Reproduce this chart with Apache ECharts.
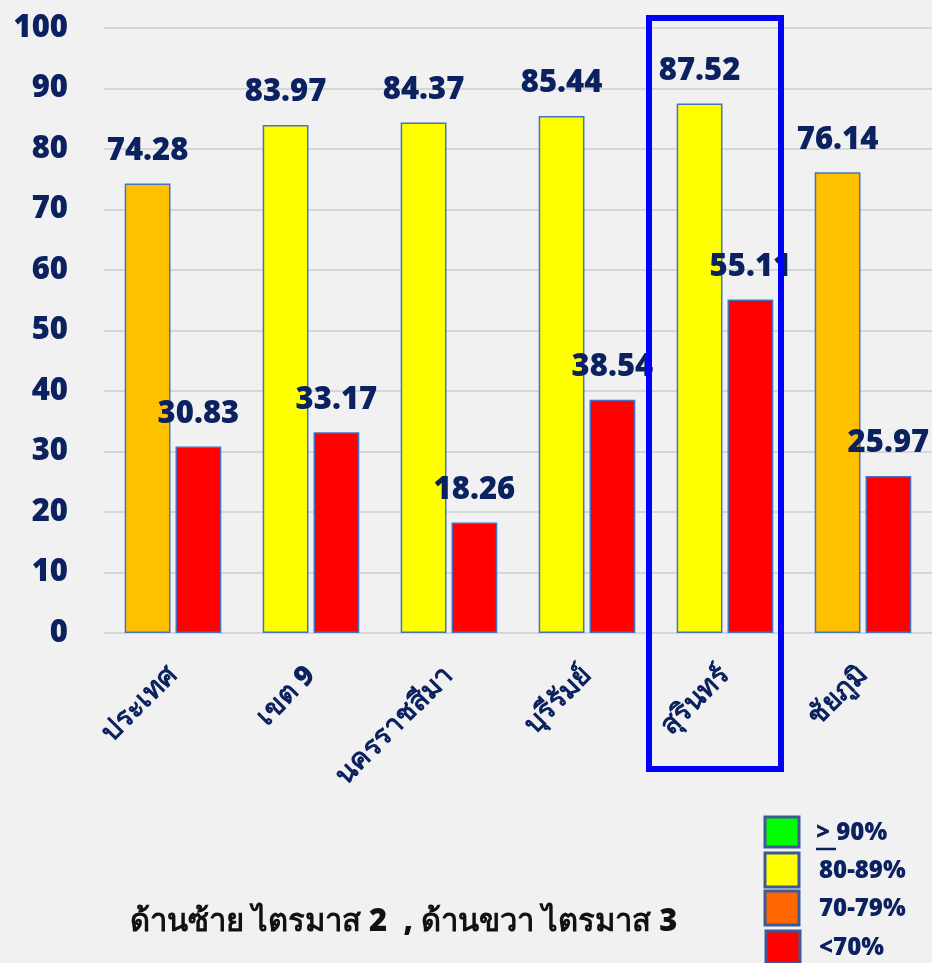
<!DOCTYPE html>
<html>
<head>
<meta charset="utf-8">
<script src="https://cdn.jsdelivr.net/npm/echarts@6/dist/echarts.min.js"></script>
<style>
  html, body { margin: 0; padding: 0; background: #f1f1f1; }
  #main { width: 932px; height: 963px; }
</style>
</head>
<body>
<div id="main"></div>
<script>
// หมวดหมู่ (พื้นที่)
var categories = ['ประเทศ', 'เขต 9', 'นครราชสีมา', 'บุรีรัมย์', 'สุรินทร์', 'ชัยภูมิ'];
// ด้านซ้าย ไตรมาส 2
var q2Values = [74.28, 83.97, 84.37, 85.44, 87.52, 76.14];
// ด้านขวา ไตรมาส 3
var q3Values = [30.83, 33.17, 18.26, 38.54, 55.11, 25.97];
var yTicks = [0, 10, 20, 30, 40, 50, 60, 70, 80, 90, 100];
var legendLabels = ['> 90%', '80-89%', '70-79%', '<70%'];
var legendColors = ['#00FF00', '#FFFF00', '#FF6600', '#FF0000'];

var navy = '#0B2160';
var font = '"Noto Sans", sans-serif';

// สีตามเกณฑ์
function barColor(v) {
  if (v >= 90) return '#00FF00';
  if (v >= 80) return '#FFFF00';
  if (v >= 70) return '#FFC000';
  return '#FF0000';
}

function makeSeries(name, values) {
  return {
    name: name,
    type: 'bar',
    barGap: '11%',
    barCategoryGap: '30%',
    data: values.map(function (v) {
      return { value: v, itemStyle: { color: barColor(v) } };
    }),
    itemStyle: { borderColor: '#4472C4', borderWidth: 1.5 },
    label: {
      show: true,
      position: 'top',
      distance: 17,
      color: navy,
      fontFamily: font,
      fontWeight: 900,
      fontSize: 31
    }
  };
}

var legendGraphics = [];
legendLabels.forEach(function (t, i) {
  var ys = [817, 853, 891, 931];
  var hs = [30, 34, 34, 32];
  legendGraphics.push({
    type: 'rect',
    shape: { x: 765 + (i === 3 ? 1 : 0), y: ys[i], width: 34, height: hs[i] },
    style: { fill: legendColors[i], stroke: '#3E5A96', lineWidth: 3 }
  });
  legendGraphics.push({
    type: 'text',
    x: i === 0 ? 816 : 819,
    y: ys[i] + hs[i] / 2 + 1,
    style: {
      text: t,
      fill: navy,
      font: '900 24px ' + font,
      textVerticalAlign: 'middle'
    }
  });
});
// ขีดเส้นใต้เครื่องหมาย >
legendGraphics.push({
  type: 'line',
  shape: { x1: 816, y1: 849, x2: 836, y2: 849 },
  style: { stroke: navy, lineWidth: 2.5 }
});

var myChart = echarts.init(document.getElementById('main'));
myChart.setOption({
  backgroundColor: '#f1f1f1',
  animation: false,
  grid: {
    left: 104,
    right: 0,
    top: 28,
    bottom: 330
  },
  xAxis: {
    type: 'category',
    data: categories,
    axisLine: { show: false },
    axisTick: { show: false },
    axisLabel: {
      rotate: 45,
      margin: 38,
      color: navy,
      fontFamily: font,
      fontWeight: 900,
      fontSize: 28
    }
  },
  yAxis: {
    type: 'value',
    min: yTicks[0],
    max: yTicks[yTicks.length - 1],
    interval: 10,
    axisLine: { show: false },
    axisTick: { show: false },
    splitLine: { lineStyle: { color: '#d6d6d6', width: 2 } },
    axisLabel: {
      margin: 36,
      color: navy,
      fontFamily: font,
      fontWeight: 900,
      fontSize: 31
    }
  },
  series: [
    makeSeries('ไตรมาส 2', q2Values),
    makeSeries('ไตรมาส 3', q3Values)
  ],
  graphic: [
    // กรอบเน้น สุรินทร์
    {
      type: 'rect',
      z: 10,
      shape: { x: 649, y: 18, width: 132, height: 751 },
      style: { fill: 'none', stroke: '#0000FF', lineWidth: 6 }
    },
    {
      type: 'text',
      x: 130,
      y: 922,
      style: {
        text: 'ด้านซ้าย ไตรมาส 2  , ด้านขวา ไตรมาส 3',
        fill: '#111111',
        font: '900 31px ' + font,
        textVerticalAlign: 'middle'
      }
    }
  ].concat(legendGraphics)
});
</script>
</body>
</html>
